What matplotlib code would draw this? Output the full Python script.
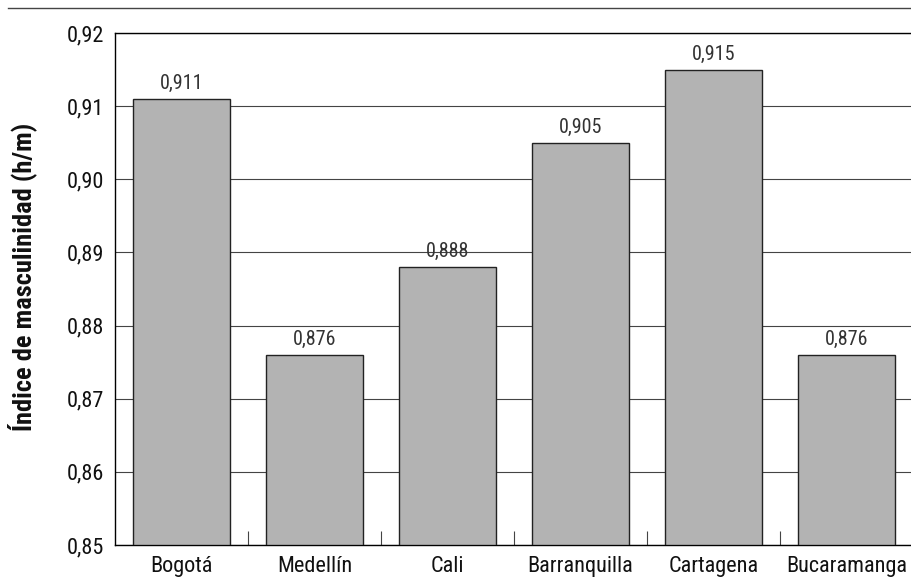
import matplotlib
matplotlib.use("Agg")
import matplotlib.pyplot as plt
import numpy as np

categories = ["Bogotá", "Medellín", "Cali", "Barranquilla", "Cartagena", "Bucaramanga"]
values = [0.911, 0.876, 0.888, 0.905, 0.915, 0.876]
yticks = [0.85, 0.86, 0.87, 0.88, 0.89, 0.90, 0.91, 0.92]

plt.rcParams['font.family'] = ['Roboto Condensed', 'DejaVu Sans']

fig = plt.figure(figsize=(9.11, 5.83), dpi=100)
W, H = 911, 583
ax = fig.add_axes([115 / W, 1 - 545 / H, 798 / W, (545 - 33) / H])

x = np.arange(len(categories))
ax.set_ylim(0.85, 0.92)
ax.set_xlim(-0.5, len(categories) - 0.5)
ax.set_yticks(yticks)
ax.set_yticklabels([f"{v:.2f}".replace(".", ",") for v in yticks], fontsize=16, color="#111111")
ax.yaxis.grid(True, color="#444444", linewidth=0.8)
ax.set_axisbelow(True)

ax.bar(x, [v - 0.85 for v in values], bottom=0.85, width=0.73,
       color="#b3b3b3", edgecolor="#222222", linewidth=1.0, zorder=3)
for xi, v in zip(x, values):
    ax.text(xi, v + 0.0008, f"{v:.3f}".replace(".", ","), ha="center", va="bottom",
            fontsize=14.5, color="#333333")

ax.set_xticks(x)
ax.set_xticklabels(categories, fontsize=16, color="#111111")
ax.tick_params(axis="x", length=0, pad=8)
ax.set_xticks(np.arange(len(categories) - 1) + 0.5, minor=True)
ax.tick_params(axis="x", which="minor", direction="in", length=10, width=0.8, color="#444444")
ax.tick_params(axis="y", length=0, pad=8)

for s in ["top", "left", "bottom"]:
    ax.spines[s].set_color("black")
    ax.spines[s].set_linewidth(1.0)
ax.spines["right"].set_visible(False)

ax.set_ylabel("Índice de masculinidad (h/m)", fontsize=19, fontweight="bold", color="#111111")
ax.yaxis.label.set_verticalalignment("center")
ax.yaxis.set_label_coords(-(115 - 22) / 798, (545 - 277) / 512)

fig.add_artist(plt.Line2D([8 / W, 1.0], [1 - 8 / H, 1 - 8 / H], color="#444444", linewidth=1.0))

fig.savefig("out.png", dpi=100)
